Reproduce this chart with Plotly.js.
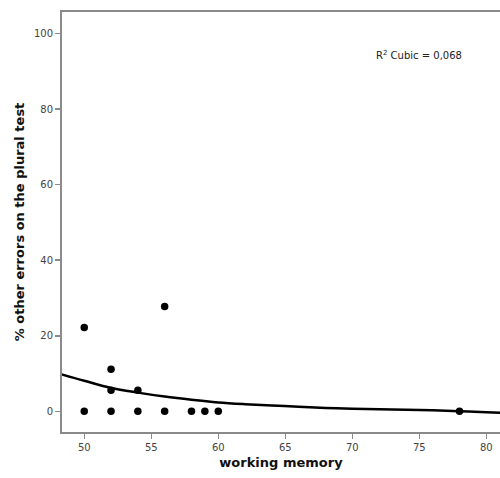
<!DOCTYPE html>
<html>
<head>
<meta charset="utf-8">
<script src="https://cdn.plot.ly/plotly-3.0.1.min.js"></script>
<style>
  html, body { margin: 0; padding: 0; background: #fff; }
  #chart { width: 500px; height: 478px; }
</style>
</head>
<body>
<div id="chart"></div>
<script>
// Observed scores: working memory vs. % other errors on the plural test
const memoryScores = [50, 50, 52, 52, 52, 54, 54, 56, 56, 58, 59, 60, 78];
const otherErrors  = [0, 22.22, 0, 5.56, 11.11, 0, 5.56, 0, 27.78, 0, 0, 0, 0];

// Cubic fit line, sampled along the x range
const fitX = [48.3, 50, 52, 54, 56, 58, 60, 62, 64, 66, 68, 70, 72, 74, 76, 78, 80, 81.1];
const fitY = [9.8, 8.1, 6.2, 4.95, 3.9, 3.05, 2.35, 1.9, 1.55, 1.2, 0.9, 0.7, 0.58, 0.45, 0.3, 0.05, -0.22, -0.4];

const xTicks = [50, 55, 60, 65, 70, 75, 80];
const yTicks = [0, 20, 40, 60, 80, 100];

const fitLabel = 'R<sup>2</sup> Cubic = 0,068';

const axisColor = '#8a8a8a';
const tickFont = { family: 'DejaVu Sans, sans-serif', size: 10, color: '#444' };
const titleFont = { family: 'DejaVu Sans, sans-serif', size: 13, color: '#111', weight: 'bold' };

const traces = [
  {
    x: fitX, y: fitY,
    type: 'scatter', mode: 'lines',
    line: { color: '#000', width: 2.5, shape: 'spline', smoothing: 1 },
    hoverinfo: 'skip', showlegend: false
  },
  {
    x: memoryScores, y: otherErrors,
    type: 'scatter', mode: 'markers',
    marker: { color: '#000', size: 7.5, line: { width: 0 } },
    showlegend: false
  }
];

const layout = {
  width: 500, height: 478,
  margin: { l: 62, r: 0, t: 12, b: 46 },
  paper_bgcolor: '#fff', plot_bgcolor: '#fff',
  xaxis: {
    range: [48.34, 81.02],
    tickvals: xTicks, ticktext: xTicks.map(String),
    ticks: 'outside', ticklen: 5, tickwidth: 1.5, tickcolor: axisColor,
    showline: true, linecolor: axisColor, linewidth: 2, mirror: true,
    showgrid: false, zeroline: false,
    tickfont: tickFont,
    title: { text: 'working memory', font: titleFont, standoff: 6 }
  },
  yaxis: {
    range: [-5.47, 105.7],
    tickvals: yTicks, ticktext: yTicks.map(String),
    ticks: 'outside', ticklen: 5, tickwidth: 1.5, tickcolor: axisColor,
    showline: true, linecolor: axisColor, linewidth: 2, mirror: false,
    showgrid: false, zeroline: false,
    tickfont: tickFont,
    title: { text: '% other errors on the plural test', font: titleFont, standoff: 6 }
  },
  annotations: [
    {
      text: fitLabel, showarrow: false,
      xref: 'paper', yref: 'paper',
      x: 0.712, y: 0.898, xanchor: 'left', yanchor: 'middle',
      font: { family: 'DejaVu Sans, sans-serif', size: 10, color: '#222' }
    }
  ]
};

Plotly.newPlot('chart', traces, layout, { displayModeBar: false, staticPlot: true });
</script>
</body>
</html>
